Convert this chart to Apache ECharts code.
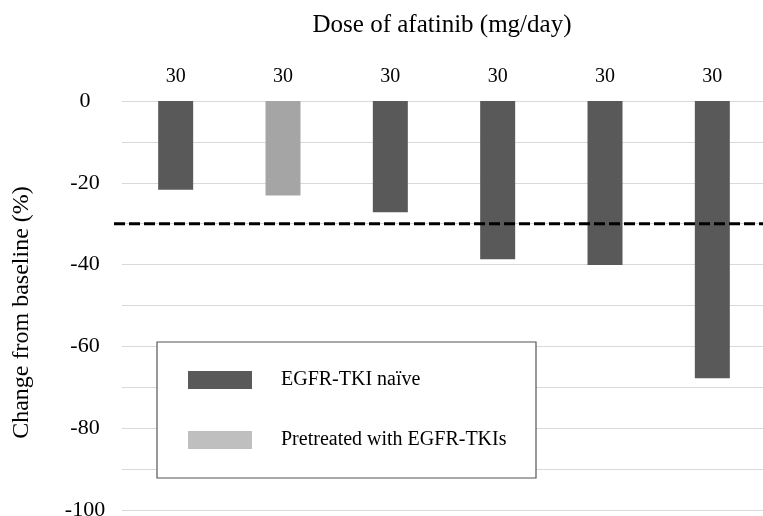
<!DOCTYPE html>
<html>
<head>
<meta charset="utf-8">
<script src="https://cdn.jsdelivr.net/npm/echarts@6/dist/echarts.min.js"></script>
<style>html,body{margin:0;padding:0;background:#fff;}#c{width:763px;height:516px;}</style>
</head>
<body>
<div id="c"></div>
<script>
const categories = ['P1', 'P2', 'P3', 'P4', 'P5', 'P6'];
const doseLabels = ['30', '30', '30', '30', '30', '30'];
const naiveValues = [-21.7, null, -27.2, -38.7, -40.1, -67.8];
const pretreatedValues = [null, -23.1, null, null, null, null];
const threshold = -30;
const yTicks = { min: -100, max: 0, interval: 10 };

const FONT = "'Liberation Serif', 'Times New Roman', serif";
const chart = echarts.init(document.getElementById('c'));
chart.setOption({
  animation: false,
  title: {
    text: 'Dose of afatinib (mg/day)',
    left: 437, top: 8, textAlign: 'center',
    textStyle: { fontFamily: FONT, fontSize: 25, fontWeight: 'normal', color: '#000' }
  },
  grid: { left: 122, right: -3, top: 101, bottom: 6, containLabel: false, outerBoundsMode: 'none' },
  legend: {
    orient: 'vertical', left: 183, top: 365, z: 10,
    itemWidth: 64, itemHeight: 18, itemGap: 40, icon: 'rect',
    textStyle: { fontFamily: FONT, fontSize: 20, color: '#000', padding: [0, 0, 0, 24] },
    data: [
      { name: 'EGFR-TKI naïve', itemStyle: { color: '#595959' } },
      { name: 'Pretreated with EGFR-TKIs', itemStyle: { color: '#bfbfbf' } }
    ]
  },
  xAxis: {
    type: 'category', position: 'top', data: categories,
    axisLine: { show: false }, axisTick: { show: false },
    axisLabel: {
      margin: 14, fontFamily: FONT, fontSize: 20, color: '#000',
      formatter: (v, i) => doseLabels[i]
    }
  },
  yAxis: {
    type: 'value', min: yTicks.min, max: yTicks.max, interval: yTicks.interval,
    name: 'Change from baseline (%)', nameLocation: 'middle', nameGap: 88,
    nameTextStyle: { fontFamily: FONT, fontSize: 24, color: '#000', padding: [0, 14, 0, 0] },
    axisLine: { show: false }, axisTick: { show: false },
    splitLine: { lineStyle: { color: '#d9d9d9', width: 1 } },
    axisLabel: {
      margin: 37, align: 'center', fontFamily: FONT, fontSize: 22, color: '#000',
      formatter: v => (v % 20 === 0 ? String(v) : '')
    }
  },
  series: [
    { name: 'EGFR-TKI naïve', type: 'bar', data: naiveValues, barWidth: 35, barGap: '-100%',
      itemStyle: { color: '#595959' } },
    { name: 'Pretreated with EGFR-TKIs', type: 'bar', data: pretreatedValues, barWidth: 35,
      itemStyle: { color: '#a5a5a5' } }
  ]
});
const ty = chart.convertToPixel({ yAxisIndex: 0 }, threshold);
chart.setOption({
  graphic: [
    { type: 'rect', z: 3, shape: { x: 157, y: 342, width: 379, height: 136 },
      style: { fill: '#fff', stroke: '#555', lineWidth: 1.2 } },
    { type: 'line', z: 10, shape: { x1: 114, y1: ty, x2: 763, y2: ty },
      style: { stroke: '#000', lineWidth: 3, lineDash: [11, 4] } }
  ]
});
</script>
</body>
</html>
